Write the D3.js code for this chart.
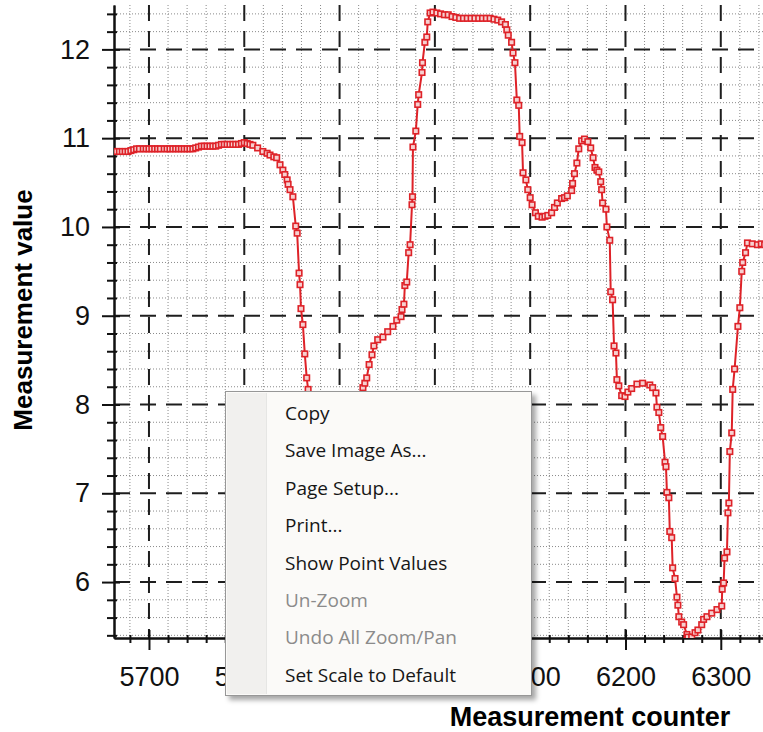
<!DOCTYPE html>
<html>
<head>
<meta charset="utf-8">
<script src="https://d3js.org/d3.v7.min.js"></script>
<style>
  body { margin: 0; background: #fff; }
  svg { display: block; }
</style>
</head>
<body>
<svg id="chart" width="763" height="732"></svg>
<script>
const counter = [
  5663, 5666, 5669, 5672, 5675, 5678, 5681, 5684, 5687, 5690, 5694, 5697,
  5700, 5703, 5706, 5709, 5712, 5716, 5719, 5722, 5725, 5728, 5731, 5734,
  5737, 5740, 5743, 5746, 5749, 5752, 5755, 5758, 5761, 5764, 5767, 5770,
  5773, 5776, 5779, 5782, 5785, 5788, 5791, 5794, 5797, 5800, 5803, 5806,
  5809, 5814, 5819.5, 5824, 5827, 5831, 5834, 5837.5, 5840.5, 5842.5, 5845,
  5846, 5848, 5851, 5854, 5855.5, 5857.5, 5858.5, 5859.5, 5861.5, 5863.5,
  5865.5, 5867, 5869, 5872, 5875, 5878, 5882, 5887, 5893, 5899, 5905, 5910,
  5915, 5919, 5922, 5924.5, 5926.5, 5928.5, 5931, 5934, 5936, 5940, 5945.5,
  5950.5, 5956, 5960, 5964.5, 5965.5, 5967.5, 5968.5, 5970.5, 5972.5, 5974,
  5976, 5976.5, 5977, 5980, 5982, 5983, 5986.5, 5987, 5989.5, 5991.5, 5992.5,
  5995, 5998, 6002, 6006, 6010, 6014, 6018, 6022, 6026, 6030, 6034, 6038,
  6042, 6046, 6050, 6054, 6058, 6062, 6066, 6070, 6074, 6075.5, 6077, 6080.5,
  6082, 6084, 6086, 6088, 6089, 6091.5, 6092.5, 6095.5, 6097.5, 6100, 6102,
  6105.5, 6108.5, 6112.5, 6115.5, 6118.5, 6122.5, 6125.5, 6128.5, 6133, 6136,
  6139, 6143.5, 6144.5, 6146.5, 6149, 6151, 6154, 6157, 6160.5, 6163.5, 6166,
  6168, 6170, 6172, 6174, 6175, 6176, 6179.5, 6180.5, 6183.5, 6184.5, 6186.5,
  6188, 6190, 6191, 6193, 6196, 6199.5, 6202.5, 6206.5, 6212, 6218, 6225.5,
  6228.5, 6232, 6233, 6235, 6237, 6239, 6241.5, 6242.5, 6243.5, 6245.5, 6246.5,
  6248.5, 6249.5, 6252, 6254, 6255, 6256, 6259, 6261, 6264.5, 6265.5, 6269.5,
  6273, 6276, 6280, 6282, 6285.5, 6290.5, 6296, 6301, 6301.5, 6303, 6304,
  6306.5, 6307.5, 6308.5, 6309.5, 6311.5, 6312.5, 6314.5, 6318, 6320, 6322,
  6323, 6326, 6328, 6333, 6338.5, 6342.5, 6346
];
const measurement = [
  10.85, 10.85, 10.85, 10.85, 10.85, 10.85, 10.86, 10.87, 10.88, 10.88, 10.88, 10.88,
  10.88, 10.88, 10.88, 10.88, 10.88, 10.88, 10.88, 10.88, 10.88, 10.88, 10.88, 10.88,
  10.88, 10.88, 10.88, 10.88, 10.89, 10.90, 10.91, 10.91, 10.91, 10.91, 10.91, 10.91,
  10.92, 10.93, 10.93, 10.93, 10.93, 10.93, 10.93, 10.93, 10.94, 10.95, 10.94, 10.93,
  10.92, 10.89, 10.85, 10.83, 10.81, 10.79, 10.78, 10.70, 10.64, 10.59, 10.53,
  10.48, 10.42, 10.34, 10.01, 9.93, 9.48, 9.35, 9.08, 8.90, 8.57,
  8.30, 8.17, 7.85, 7.40, 6.90, 6.45, 6.05, 5.80, 5.72, 5.85, 6.30, 6.90,
  7.40, 7.78, 8.02, 8.19, 8.24, 8.30, 8.45, 8.56, 8.66, 8.73, 8.76,
  8.82, 8.88, 8.95, 8.99, 9.07, 9.13, 9.34, 9.38, 9.71, 9.80,
  10.25, 10.34, 10.90, 11.08, 11.38, 11.49, 11.74, 11.85, 12.08, 12.14, 12.31,
  12.41, 12.42, 12.41, 12.40, 12.39, 12.39, 12.37, 12.36, 12.35, 12.35, 12.35, 12.35,
  12.35, 12.35, 12.35, 12.35, 12.35, 12.34, 12.33, 12.31, 12.28, 12.22, 12.16, 12.08,
  11.96, 11.85, 11.43, 11.37, 11.02, 10.95, 10.61, 10.53, 10.42, 10.33, 10.25,
  10.16, 10.12, 10.11, 10.12, 10.13, 10.16, 10.22, 10.27, 10.32, 10.33,
  10.35, 10.41, 10.49, 10.60, 10.72, 10.88, 10.97, 10.99, 10.96, 10.89, 10.78,
  10.67, 10.64, 10.62, 10.51, 10.42, 10.27, 10.20, 10.00, 9.85, 9.27, 9.18,
  8.66, 8.58, 8.28, 8.21, 8.10, 8.09, 8.14, 8.18, 8.23, 8.24, 8.22,
  8.19, 8.13, 7.97, 7.91, 7.74, 7.64, 7.35, 7.30, 7.01, 6.95, 6.57,
  6.50, 6.16, 6.04, 5.83, 5.74, 5.61, 5.55, 5.52, 5.41, 5.38, 5.38,
  5.43, 5.46, 5.52, 5.58, 5.61, 5.65, 5.69, 5.73, 5.92, 5.99, 6.27,
  6.34, 6.78, 6.89, 7.47, 7.68, 8.17, 8.40, 8.88, 9.09, 9.50,
  9.60, 9.71, 9.82, 9.81, 9.80, 9.81, 9.80
];

const xTicks = [5700, 5800, 5900, 6000, 6100, 6200, 6300];
const yTicks = [6, 7, 8, 9, 10, 11, 12];

const menuItems = [
  "Copy", "Save Image As...", "Page Setup...", "Print...",
  "Show Point Values", "Un-Zoom", "Undo All Zoom/Pan", "Set Scale to Default"
];
const menuDisabled = ["Un-Zoom", "Undo All Zoom/Pan"];

const plot = { left: 114, top: 5, right: 763, bottom: 638 };
const red = "#de2228";

const x = d3.scaleLinear().domain([5663.3, 6344.3]).range([plot.left, plot.right]);
const y = d3.scaleLinear().domain([5.37, 12.5]).range([plot.bottom, plot.top]);

const xMinor = d3.range(5680, 6344, 20).filter((v) => v % 100 !== 0);
const yMinor = d3.range(5.4, 12.45, 0.2).map((v) => +v.toFixed(1)).filter((v) => v % 1 !== 0);

const svg = d3.select("#chart");

svg.append("defs")
  .append("clipPath")
  .attr("id", "plot-clip")
  .append("rect")
  .attr("x", plot.left)
  .attr("y", plot.top)
  .attr("width", plot.right - plot.left)
  .attr("height", plot.bottom - plot.top);

const grid = svg.append("g").attr("clip-path", "url(#plot-clip)");

// minor grid, dotted
grid.append("g")
  .selectAll("line")
  .data(xMinor)
  .join("line")
  .attr("x1", (d) => x(d)).attr("x2", (d) => x(d))
  .attr("y1", plot.top).attr("y2", plot.bottom)
  .attr("stroke", "#8a8a8a")
  .attr("stroke-dasharray", "1,2");

grid.append("g")
  .selectAll("line")
  .data(yMinor)
  .join("line")
  .attr("x1", plot.left).attr("x2", plot.right)
  .attr("y1", (d) => y(d)).attr("y2", (d) => y(d))
  .attr("stroke", "#8a8a8a")
  .attr("stroke-dasharray", "1,2");

// major grid, dashed
grid.append("g")
  .selectAll("line")
  .data(xTicks)
  .join("line")
  .attr("x1", (d) => x(d)).attr("x2", (d) => x(d))
  .attr("y1", plot.top).attr("y2", plot.bottom)
  .attr("stroke", "#1e1e1e")
  .attr("stroke-width", 2)
  .attr("stroke-dasharray", "16,10");

grid.append("g")
  .selectAll("line")
  .data(yTicks)
  .join("line")
  .attr("x1", plot.left).attr("x2", plot.right)
  .attr("y1", (d) => y(d)).attr("y2", (d) => y(d))
  .attr("stroke", "#1e1e1e")
  .attr("stroke-width", 2)
  .attr("stroke-dasharray", "16,10");

// axes; ticks cross the axis line
const axisFont = "'Liberation Sans', Arial, sans-serif";

const yAxisMinor = svg.append("g")
  .attr("transform", `translate(${plot.left},0)`)
  .call(d3.axisLeft(y).tickValues(yMinor).tickFormat("").tickSizeOuter(0));
yAxisMinor.selectAll(".tick line").attr("x1", 3).attr("x2", -7);

const yAxis = svg.append("g")
  .attr("transform", `translate(${plot.left},0)`)
  .call(d3.axisLeft(y).tickValues(yTicks).tickSize(12).tickPadding(12).tickSizeOuter(0));
yAxis.selectAll(".tick line").attr("x1", 6);

const xAxisMinor = svg.append("g")
  .attr("transform", `translate(0,${plot.bottom})`)
  .call(d3.axisBottom(x).tickValues(xMinor).tickFormat("").tickSizeOuter(0));
xAxisMinor.selectAll(".tick line").attr("y1", -3).attr("y2", 5);

const xAxis = svg.append("g")
  .attr("transform", `translate(0,${plot.bottom})`)
  .call(
    d3.axisBottom(x)
      .tickValues(xTicks)
      .tickFormat(d3.format("d"))
      .tickSize(12)
      .tickPadding(17)
      .tickSizeOuter(0)
  );
xAxis.selectAll(".tick line").attr("y1", -8);

svg.selectAll(".domain").attr("stroke", "#111").attr("stroke-width", 2);
svg.selectAll(".tick line").attr("stroke", "#111").attr("stroke-width", 2);
svg.selectAll(".tick text")
  .attr("font-family", axisFont)
  .attr("font-size", 27)
  .attr("fill", "#111");

svg.append("text")
  .attr("transform", `translate(32,${(183 + 437) / 2}) rotate(-90)`)
  .attr("text-anchor", "middle")
  .attr("font-family", axisFont)
  .attr("font-weight", "bold")
  .attr("font-size", 26)
  .attr("fill", "#000")
  .text("Measurement value");

svg.append("text")
  .attr("x", 590)
  .attr("y", 726)
  .attr("text-anchor", "middle")
  .attr("font-family", axisFont)
  .attr("font-weight", "bold")
  .attr("font-size", 27)
  .attr("fill", "#000")
  .text("Measurement counter");

// the curve with hollow square markers
const points = counter.map((c, i) => [c, measurement[i]]);
const series = svg.append("g").attr("clip-path", "url(#plot-clip)");

series.append("path")
  .datum(points)
  .attr("fill", "none")
  .attr("stroke", red)
  .attr("stroke-width", 2)
  .attr("d", d3.line().x((d) => x(d[0])).y((d) => y(d[1])));

const marker = 5.5;
series.append("g")
  .selectAll("rect")
  .data(points)
  .join("rect")
  .attr("x", (d) => x(d[0]) - marker / 2)
  .attr("y", (d) => y(d[1]) - marker / 2)
  .attr("width", marker)
  .attr("height", marker)
  .attr("fill", "#f6d0d0")
  .attr("stroke", red)
  .attr("stroke-width", 1.6);

// context menu overlay
const menu = { x: 225, y: 391, w: 306, h: 304, rowStart: 29, rowStep: 37.4 };

const shadow = svg.select("defs")
  .append("filter")
  .attr("id", "menu-shadow")
  .attr("x", "-10%").attr("y", "-10%")
  .attr("width", "130%").attr("height", "130%");
shadow.append("feDropShadow")
  .attr("dx", 4).attr("dy", 4)
  .attr("stdDeviation", 2.5)
  .attr("flood-color", "#000")
  .attr("flood-opacity", 0.35);

const menuG = svg.append("g").attr("transform", `translate(${menu.x},${menu.y})`);

menuG.append("rect")
  .attr("x", 0.5).attr("y", 0.5)
  .attr("width", menu.w).attr("height", menu.h)
  .attr("fill", "#fbfaf8")
  .attr("stroke", "#979797")
  .attr("filter", "url(#menu-shadow)");

menuG.append("rect")
  .attr("x", 2).attr("y", 2)
  .attr("width", 39).attr("height", menu.h - 3)
  .attr("fill", "#f1f0ee");

menuG.append("line")
  .attr("x1", 41.5).attr("x2", 41.5)
  .attr("y1", 2).attr("y2", menu.h - 1)
  .attr("stroke", "#e6e6e4");

menuG.selectAll("text")
  .data(menuItems)
  .join("text")
  .attr("x", 60)
  .attr("y", (d, i) => menu.rowStart + i * menu.rowStep)
  .attr("font-family", "'Open Sans', 'Noto Sans', sans-serif")
  .attr("font-size", 19)
  .attr("fill", (d) => (menuDisabled.includes(d) ? "#8b8b8b" : "#161616"))
  .text((d) => d);
</script>
</body>
</html>
